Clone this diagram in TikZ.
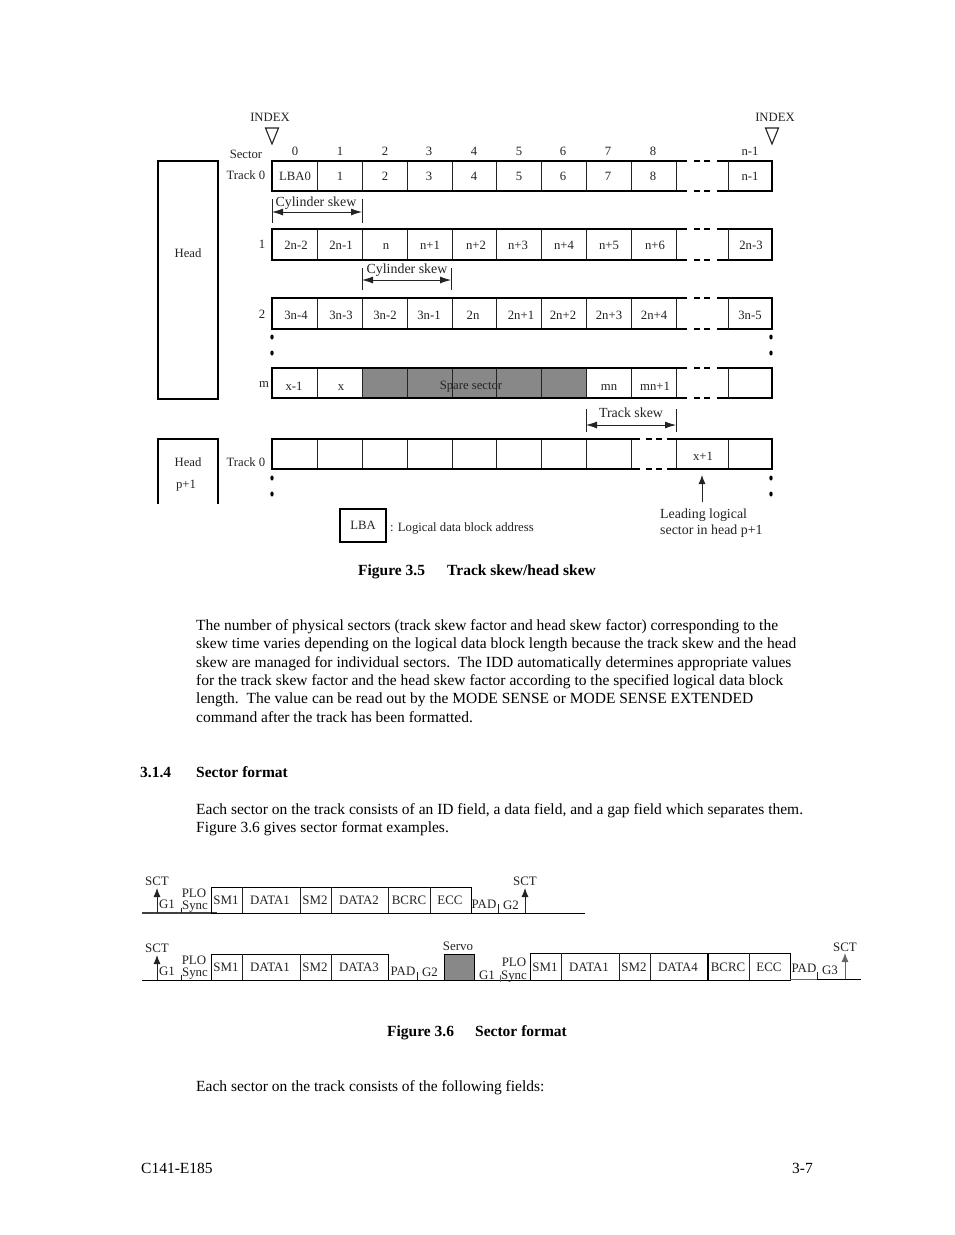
\documentclass[tikz,border=0pt]{standalone}
\usepackage{fontspec}
\setmainfont{Liberation Serif}
\usetikzlibrary{arrows.meta,calc,shapes.geometric}
\definecolor{inkdark}{RGB}{35,35,35}
\definecolor{spare}{RGB}{136,136,136}
\tikzset{
  lab/.style={inner sep=0pt,anchor=mid,yshift=-2pt,font=\fontsize{12.7}{14}\selectfont,text=inkdark},
  labw/.style={lab,anchor=mid west},
  skewlab/.style={lab,font=\fontsize{13.9}{16}\selectfont},
  small/.style={lab,font=\fontsize{12.9}{14}\selectfont},
  body/.style={inner sep=0pt,anchor=mid west,yshift=-2pt,font=\fontsize{15.5}{18}\selectfont,text=black},
  bodyb/.style={body,font=\fontsize{15.5}{18}\selectfont\bfseries},
  frame/.style={draw=black,line width=1.25pt},
  divider/.style={draw=inkdark,line width=0.8pt},
  twoway/.style={draw=inkdark,line width=0.8pt,{Latex[length=11pt,width=7pt]}-{Latex[length=11pt,width=7pt]}},
  upward/.style={draw=inkdark,line width=0.9pt,-{Latex[length=9pt,width=7pt]}},
  tick/.style={draw=inkdark,line width=0.8pt},
  dot/.style={fill=black,ellipse,inner sep=0pt},
}
% dashes in a broken line, from the given x on
\newcommand{\gapdash}[2]{\draw[black,line width=1.6pt] (#1,#2) -- ++(6,0) (#1+10,#2) -- ++(6,0);}
\begin{document}
\begin{tikzpicture}[x=1pt,y=-1pt]
  \useasboundingbox (0,0) rectangle (954,1235);
  \fill[white] (0,0) rectangle (954,1235);
  % index marks
  \foreach \n/\x in {a/272,b/772}
    \draw[line width=1.1pt,inkdark] (\x-6.5,128) -- (\x+6.5,128) -- (\x,144) -- cycle;
  \node[lab] (indexa) at (270,117) {INDEX};
  \node[lab] (indexb) at (775,117) {INDEX};
  % head blocks
  \draw[frame] (158,161) rectangle (218,399);
  \draw[frame] (158,504) -- (158,439) -- (218,439) -- (218,504);
  % spare sectors go under the rows
  \fill[spare] (362,368) rectangle (586,398);
  % tracks 0, 1, 2, m
  \foreach \t/\b in {161/191,229/260,298/329,368/398} {
    \foreach \x in {317,362,407,452,496,541,586,631,676}
      \draw[divider] (\x,\t) -- (\x,\b);
    \draw[frame] (687,\t) -- (272,\t) -- (272,\b) -- (687,\b);
    \draw[frame] (717,\t) -- (772,\t) -- (772,\b) -- (717,\b);
    \draw[divider] (728,\t) -- (728,\b);
    \gapdash{694}{\t} \gapdash{694}{\b}
  }
  % track 0 of the next head
  \foreach \x in {317,362,407,452,496,541,586,631,676,728}
    \draw[divider] (\x,439) -- (\x,469);
  \draw[frame] (640,439) -- (272,439) -- (272,469) -- (640,469);
  \draw[frame] (667,439) -- (772,439) -- (772,469) -- (667,469);
  \gapdash{646}{439} \gapdash{646}{469}
  % vertical dots
  \foreach \x in {272,771}
    \foreach \y in {337,353,478,494}
      \node[dot,minimum width=3.4pt,minimum height=5pt] at (\x,\y) {};
  % left labels
  \node[lab] (sector) at (246,154) {Sector};
  \node[lab] (tracka) at (246,175) {Track 0};
  \node[lab] (trackb) at (262,244) {1};
  \node[lab] (trackc) at (262,314) {2};
  \node[lab] (trackm) at (264,383) {m};
  \node[lab] (trackp) at (246,462) {Track 0};
  \node[lab] (heada) at (188,253) {Head};
  \node[lab] (headb) at (188,462) {Head};
  \node[lab] (headp) at (186,484) {p+1};
  % sector numbers
  \foreach \x/\s in {295/0,340/1,385/2,429/3,474/4,519/5,563/6,608/7,653/8,750/n-1}
    \node[lab] (sec\s) at (\x,151) {\s};
  \foreach \x/\s [count=\i] in {295/LBA0,340/1,385/2,429/3,474/4,519/5,563/6,608/7,653/8,750/n-1}
    \node[lab] (ta\i) at (\x,176) {\s};
  \foreach \x/\s [count=\i] in {296/2n-2,341/2n-1,386/n,430/n+1,476/n+2,518/n+3,564/n+4,609/n+5,655/n+6,751/2n-3}
    \node[lab] (tb\i) at (\x,245) {\s};
  \foreach \x/\s [count=\i] in {296/3n-4,341/3n-3,385/3n-2,429/3n-1,473/2n,521/2n+1,563/2n+2,609/2n+3,654/2n+4,750/3n-5}
    \node[lab] (tc\i) at (\x,315) {\s};
  \foreach \x/\s [count=\i] in {294/x-1,341/x,609/mn,655/mn+1}
    \node[lab] (tm\i) at (\x,386) {\s};
  \node[lab] (sparelab) at (471,385) {Spare sector};
  \node[lab] (xnext) at (703,456) {x+1};
  % skew marks
  \foreach \n/\xa/\xb/\ya/\yb/\ym in {cyla/272/362/199/223/212,cylb/362/451/268/290/280,trk/586/676/409/432/425} {
    \coordinate (\n l) at (\xa,\ym);
    \coordinate (\n r) at (\xb,\ym);
    \draw[tick] (\xa,\ya) -- (\xa,\yb);
    \draw[tick] (\xb,\ya) -- (\xb,\yb);
    \draw[twoway] (\n l) -- (\n r);
  }
  \node[skewlab] (cylalab) at (316,202) {Cylinder skew};
  \node[skewlab] (cylblab) at (407,269) {Cylinder skew};
  \node[skewlab] (trklab) at (631,413) {Track skew};
  % legend
  \node[lab,anchor=center,yshift=2pt,draw=black,line width=1.3pt,minimum width=46pt,minimum height=33pt] (lba) at (363,525.5) {LBA};
  \node[labw] (lbatext) at (390,527) {: Logical data block address};
  \node[skewlab,anchor=mid west] (leadinga) at (660,514) {Leading logical};
  \node[skewlab,anchor=mid west] (leadingb) at (660,530) {sector in head p+1};
  \coordinate (leadup) at (702,502);
  \coordinate (leadcell) at (702,475);
  \draw[upward] (leadup) -- (leadcell);
  % page text
  \node[bodyb] (capa) at (358,571) {Figure 3.5};
  \node[bodyb] (capb) at (447,571) {Track skew/head skew};
  \foreach \y/\s in {626/The number of physical sectors (track skew factor and head skew factor) corresponding to the,
                     644/skew time varies depending on the logical data block length because the track skew and the head,
                     663/skew are managed for individual sectors.~~The IDD automatically determines appropriate values,
                     681/for the track skew factor and the head skew factor according to the specified logical data block,
                     699/length.~~The value can be read out by the MODE SENSE or MODE SENSE EXTENDED,
                     718/command after the track has been formatted.}
    \node[body] at (196,\y) {\s};
  \node[bodyb] (secno) at (140,773) {3.1.4};
  \node[bodyb] (sectitle) at (196,773) {Sector format};
  \node[body] (intro) at (196,810) {Each sector on the track consists of an ID field, a data field, and a gap field which separates them.};
  \node[body] (introb) at (196,828) {Figure 3.6 gives sector format examples.};
  % first sector format
  \draw[line width=1.2pt,black!75] (142,913) -- (217,913);
  \draw[line width=1pt,black] (211,913) rectangle (471,887);
  \foreach \x in {242,300,331,388,430}
    \draw[divider] (\x,887) -- (\x,913);
  \draw[line width=1pt,black] (471,913) -- (585,913);
  \foreach \x/\s [count=\i] in {226/SM1,270/DATA1,315/SM2,359/DATA2,409/BCRC,450/ECC}
    \node[small] (fa\i) at (\x,900) {\s};
  \node[small] (pada) at (484,904) {PAD};
  \node[small] (gaa) at (511,905) {G2};
  \draw[tick] (498,904) -- (498,913);
  \node[small] (gab) at (167,904) {G1};
  \draw[tick] (181,908) -- (181,913);
  \node[small] (ploa) at (194,893) {PLO};
  \node[small] (synca) at (195,905) {Sync};
  \foreach \n/\x/\y in {a/157/881,b/525/881} {
    \node[small] (sct\n) at (\x,\y) {SCT};
    \coordinate (base\n) at (\x,913);
    \draw[upward] (base\n) -- (\x,888);
  }
  % second sector format
  \draw[line width=1pt,black] (142,980) -- (217,980);
  \draw[line width=1pt,black] (211,980) rectangle (388,954);
  \foreach \x in {242,300,331}
    \draw[divider] (\x,954) -- (\x,980);
  \draw[line width=1pt,black] (388,980) -- (530,980);
  \foreach \x/\s [count=\i] in {226/SM1,270/DATA1,315/SM2,359/DATA3}
    \node[small] (fb\i) at (\x,967) {\s};
  \node[small] (padb) at (403,971) {PAD};
  \draw[tick] (417,972) -- (417,980);
  \node[small] (gbb) at (430,972) {G2};
  \fill[spare,draw=black] (444,954) rectangle (474,980);
  \node[small] (servo) at (458,946) {Servo};
  \node[small] (gbc) at (487,975) {G1};
  \draw[tick,black!60] (500,975) -- (500,982);
  \node[small] (plob) at (514,962) {PLO};
  \node[small] (syncb) at (514,975) {Sync};
  \draw[line width=1pt,black] (530,980) rectangle (790,953);
  \foreach \x in {561,619,650,749}
    \draw[divider] (\x,953) -- (\x,980);
  \draw[line width=1.5pt,black] (708,953) -- (708,980);
  \foreach \x/\s [count=\i] in {545/SM1,589/DATA1,634/SM2,678/DATA4,728/BCRC,769/ECC}
    \node[small] (fc\i) at (\x,967) {\s};
  \draw[line width=1pt,black!60] (790,979) -- (817,979);
  \draw[line width=1pt,black] (817,979) -- (861,979);
  \draw[tick] (817,972) -- (817,979);
  \node[small] (padc) at (804,968) {PAD};
  \node[small] (gcc) at (830,970) {G3};
  \node[small] (sctd) at (845,947) {SCT};
  \coordinate (based) at (845,979);
  \draw[upward,black!60] (based) -- (845,953);
  \node[small] (gbd) at (167,971) {G1};
  \draw[tick] (181,975) -- (181,980);
  \node[small] (ploc) at (194,960) {PLO};
  \node[small] (syncc) at (195,972) {Sync};
  \node[small] (sctc) at (157,948) {SCT};
  \coordinate (basec) at (157,980);
  \draw[upward] (basec) -- (157,955);
  % remaining page text
  \node[bodyb] (capc) at (387,1032) {Figure 3.6};
  \node[bodyb] (capd) at (475,1032) {Sector format};
  \node[body] (outro) at (196,1087) {Each sector on the track consists of the following fields:};
  \node[body] (docno) at (141,1169) {C141-E185};
  \node[body,anchor=mid east] (pageno) at (813,1169) {3-7};
\end{tikzpicture}
\end{document}
